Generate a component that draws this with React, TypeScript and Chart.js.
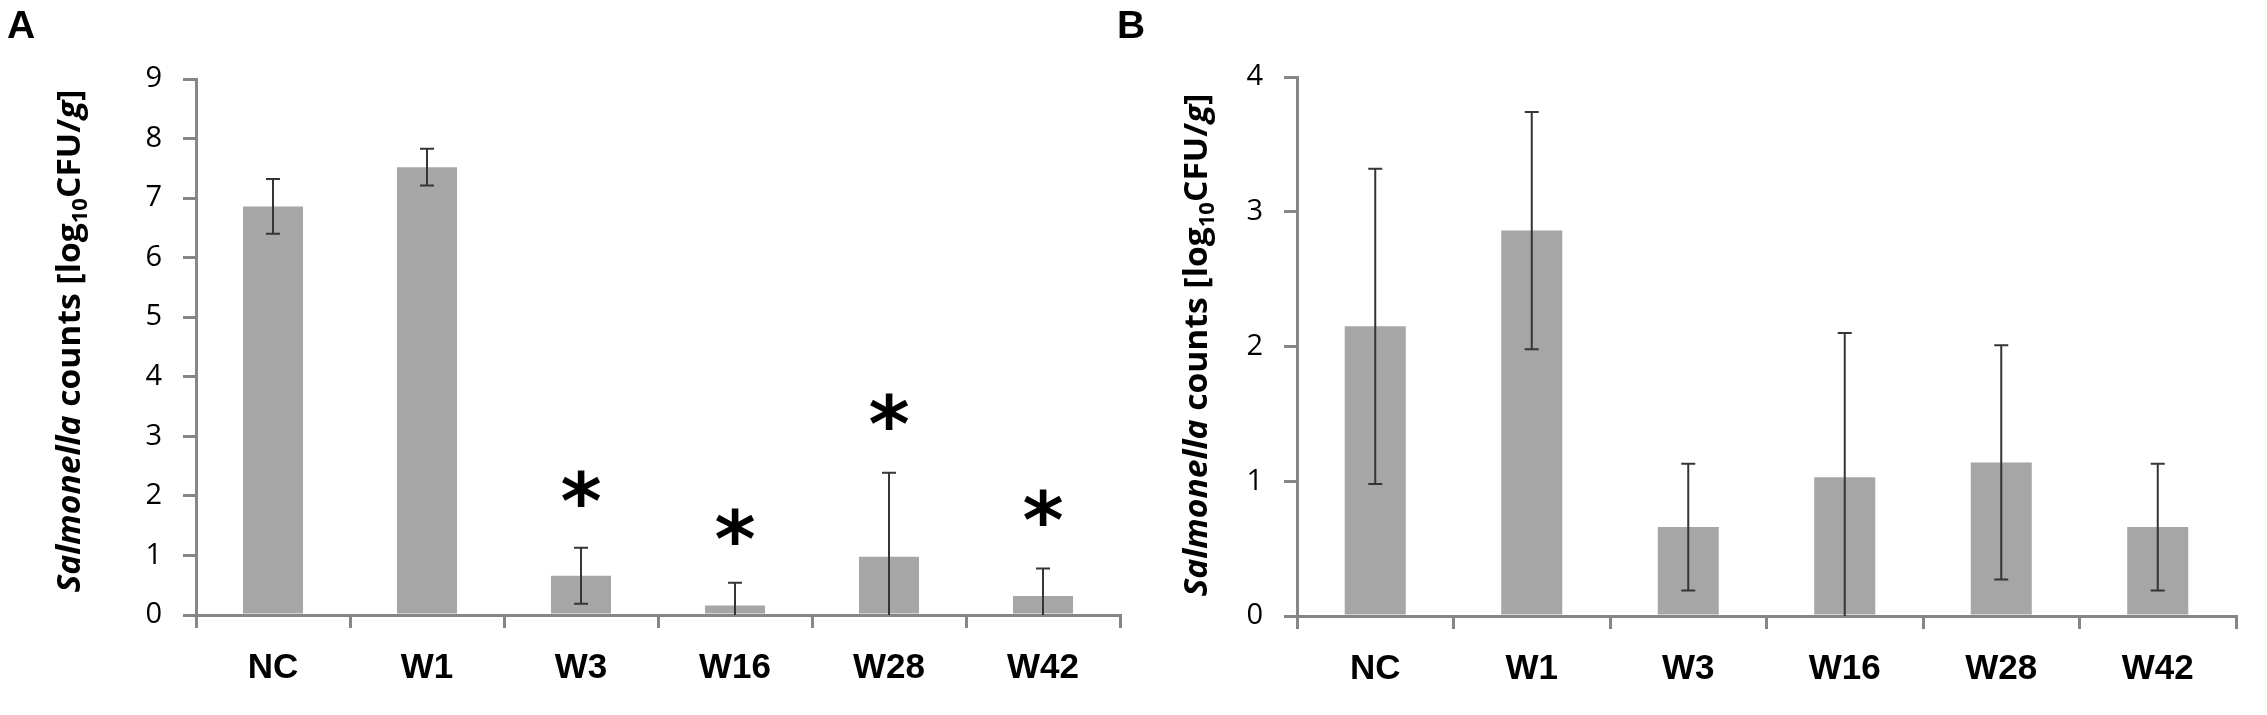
import React, { useEffect, useRef } from 'react';
import { Chart, registerables } from 'chart.js';

Chart.register(...registerables);

// Salmonella counts [log10 CFU/g], panels A and B
const categories = ['NC', 'W1', 'W3', 'W16', 'W28', 'W42'];

const countsA = [6.86, 7.52, 0.66, 0.16, 0.98, 0.32];
const errorsA = [0.46, 0.31, 0.47, 0.38, 1.41, 0.46];
// where the significance asterisks sit (value of their centre), null = none
const asterisksA: (number | null)[] = [null, null, 2.12, 1.48, 3.42, 1.8];

const countsB = [2.15, 2.86, 0.66, 1.03, 1.14, 0.66];
const errorsB = [1.17, 0.88, 0.47, 1.07, 0.87, 0.47];
const asterisksB: (number | null)[] = [null, null, null, null, null, null];

const yMaxA = 9;
const yMaxB = 4;

const BAR = '#a6a6a6';
const AXIS = '#868686';
const ERR = '#353535';
const H = 715;

const titleParts = [
  { text: 'Salmonella', italic: true },
  { text: ' counts [log' },
  { text: '10', sub: true },
  { text: 'CFU/' },
  { text: 'g', italic: true },
  { text: ']' },
];

type PanelCfg = {
  letter: string;
  values: number[];
  errors: number[];
  stars: (number | null)[];
  yMax: number;
  left: number;
  width: number;
  area: { left: number; right: number; top: number; bottom: number };
  letterX: number;
  titleX: number;
  titleCenter: number;
  titleLen: number;
};

const panels: PanelCfg[] = [
  {
    letter: 'A', values: countsA, errors: errorsA, stars: asterisksA, yMax: yMaxA,
    left: 0, width: 1150,
    area: { left: 196, right: 1120, top: 79, bottom: 615 },
    letterX: 7, titleX: 80, titleCenter: 341, titleLen: 503,
  },
  {
    letter: 'B', values: countsB, errors: errorsB, stars: asterisksB, yMax: yMaxB,
    left: 1100, width: 1167,
    area: { left: 197, right: 1136, top: 77, bottom: 616 },
    letterX: 17, titleX: 107, titleCenter: 345, titleLen: 503,
  },
];

function drawTitle(ctx: CanvasRenderingContext2D, x: number, cy: number, len: number) {
  const fontFor = (p: any) =>
    `${p.italic ? 'italic ' : ''}bold ${p.sub ? 21 : 32}px "Open Sans", sans-serif`;
  ctx.save();
  let total = 0;
  const widths = titleParts.map((p) => {
    ctx.font = fontFor(p);
    const w = ctx.measureText(p.text).width;
    total += w;
    return w;
  });
  ctx.translate(x, cy);
  ctx.rotate(-Math.PI / 2);
  ctx.scale(len / total, 1);
  ctx.fillStyle = '#000';
  ctx.textAlign = 'left';
  ctx.textBaseline = 'alphabetic';
  let cx = -total / 2;
  titleParts.forEach((p: any, i) => {
    ctx.font = fontFor(p);
    ctx.fillText(p.text, cx, p.sub ? 7 : 0);
    cx += widths[i];
  });
  ctx.restore();
}

function makeDecorations(cfg: PanelCfg) {
  return {
    id: 'decorations' + cfg.letter,
    afterDatasetsDraw(chart: any) {
      const ctx: CanvasRenderingContext2D = chart.ctx;
      const xs = chart.scales.x;
      const ys = chart.scales.y;

      // error bars
      ctx.save();
      ctx.strokeStyle = ERR;
      ctx.lineWidth = 2;
      cfg.values.forEach((v, i) => {
        const x = xs.getPixelForValue(i);
        const hi = v + cfg.errors[i];
        const lo = Math.max(0, v - cfg.errors[i]);
        const yHi = ys.getPixelForValue(hi);
        const yLo = ys.getPixelForValue(lo);
        ctx.beginPath();
        ctx.moveTo(x, yHi);
        ctx.lineTo(x, yLo);
        ctx.moveTo(x - 7, yHi);
        ctx.lineTo(x + 7, yHi);
        if (v - cfg.errors[i] > 0) {
          ctx.moveTo(x - 7, yLo);
          ctx.lineTo(x + 7, yLo);
        }
        ctx.stroke();
      });
      ctx.restore();

      // asterisks
      ctx.save();
      ctx.fillStyle = '#000';
      ctx.textAlign = 'center';
      ctx.textBaseline = 'alphabetic';
      ctx.font = 'bold 100px "DejaVu Sans", sans-serif';
      const m = ctx.measureText('*');
      const gh = m.actualBoundingBoxAscent + m.actualBoundingBoxDescent;
      const size = (100 * 37) / gh;
      ctx.font = `bold ${size}px "DejaVu Sans", sans-serif`;
      const m2 = ctx.measureText('*');
      cfg.stars.forEach((s, i) => {
        if (s === null) return;
        const x = xs.getPixelForValue(i);
        const y = ys.getPixelForValue(s);
        const base = y + (m2.actualBoundingBoxAscent - m2.actualBoundingBoxDescent) / 2;
        ctx.fillText('*', x, base);
      });
      ctx.restore();
    },
    afterDraw(chart: any) {
      const ctx: CanvasRenderingContext2D = chart.ctx;
      drawTitle(ctx, cfg.titleX, cfg.titleCenter, cfg.titleLen);
      ctx.save();
      ctx.fillStyle = '#000';
      ctx.font = 'bold 39px "Liberation Sans", Arial, sans-serif';
      ctx.textAlign = 'left';
      ctx.textBaseline = 'alphabetic';
      ctx.fillText(cfg.letter, cfg.letterX, 38);
      ctx.restore();
    },
  };
}

function Panel({ cfg }: { cfg: PanelCfg }) {
  const canvasRef = useRef<HTMLCanvasElement>(null);

  useEffect(() => {
    if (!canvasRef.current) return;
    const { area, width } = cfg;
    const chart = new Chart(canvasRef.current, {
      type: 'bar',
      data: {
        labels: categories,
        datasets: [
          {
            data: cfg.values,
            backgroundColor: BAR,
            borderWidth: 0,
            categoryPercentage: 1,
            barPercentage: 0.39,
          },
        ],
      },
      options: {
        animation: false,
        responsive: false,
        maintainAspectRatio: false,
        layout: { padding: { left: 0, top: area.top, right: width - area.right, bottom: 0 } },
        plugins: { legend: { display: false }, tooltip: { enabled: false } },
        scales: {
          x: {
            offset: true,
            grid: { offset: true, drawOnChartArea: false, tickLength: 13, color: AXIS, lineWidth: 3 },
            border: { color: AXIS, width: 3 },
            ticks: {
              color: '#000',
              padding: 19,
              maxRotation: 0,
              font: { family: '"Liberation Sans", Arial, sans-serif', size: 35, weight: 'bold' },
            },
            afterFit: (s: any) => { s.height = H - area.bottom; },
          },
          y: {
            min: 0,
            max: cfg.yMax,
            grid: { drawOnChartArea: false, tickLength: 13, color: AXIS, lineWidth: 3 },
            border: { color: AXIS, width: 3 },
            ticks: {
              stepSize: 1,
              color: '#000',
              padding: 21,
              font: { family: '"Open Sans", sans-serif', size: 29 },
            },
            afterFit: (s: any) => { s.width = area.left; },
          },
        },
      } as any,
      plugins: [makeDecorations(cfg)],
    });
    return () => chart.destroy();
  }, [cfg]);

  return (
    <canvas
      ref={canvasRef}
      width={cfg.width}
      height={H}
      style={{ position: 'absolute', left: cfg.left, top: 0, width: cfg.width, height: H }}
    />
  );
}

export default function App() {
  return (
    <div style={{ position: 'absolute', left: 0, top: 0, width: 2267, height: H, background: '#fff' }}>
      {panels.map((p) => (
        <Panel key={p.letter} cfg={p} />
      ))}
    </div>
  );
}
